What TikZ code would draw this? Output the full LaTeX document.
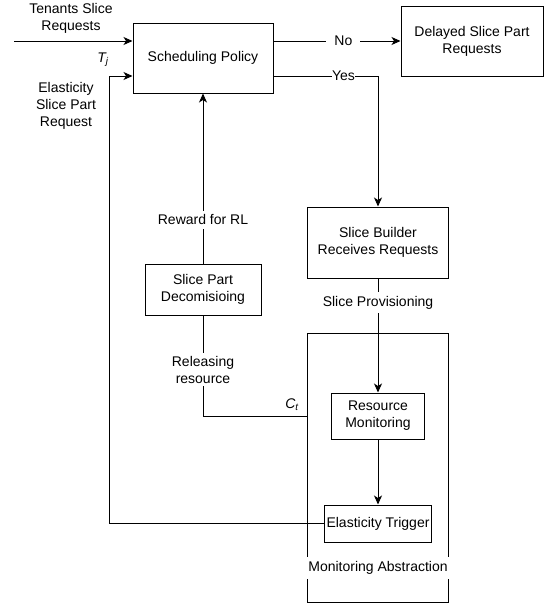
\documentclass[tikz,border=0pt]{standalone}
\usepackage{fontspec}
\setmainfont{Liberation Sans}
\usetikzlibrary{arrows.meta,calc}
\begin{document}
\begin{tikzpicture}[x=1pt,y=-1pt,
  every node/.style={font=\fontsize{14}{17}\selectfont},
  box/.style={draw,line width=1pt,rectangle,inner sep=0pt,align=center},
  lbl/.style={fill=white,inner xsep=2pt,inner ysep=4pt,align=center},
  txt/.style={inner sep=0pt,align=center},
  arr/.style={line width=1pt,-{Stealth[length=9pt,width=8pt,inset=2.5pt]}},
  ln/.style={line width=1pt}]
\useasboundingbox (0,0) rectangle (545,608);
% boxes
\node[box,minimum width=140pt,minimum height=70pt] (sp) at (203,58) {Scheduling Policy};
\node[box,minimum width=142pt,minimum height=70pt] (del) at (472,41) {Delayed Slice Part\\Requests};
\node[box,minimum width=141pt,minimum height=71pt] (sb) at (378,242.5) {Slice Builder\\Receives Requests};
\node[box,minimum width=116pt,minimum height=51pt] (dec) at (203,289.5) {Slice Part\\Decomisioing};
\node[box,minimum width=141pt,minimum height=269pt] (ma) at (378,467.5) {};
\node[box,minimum width=93pt,minimum height=46pt] (rm) at (378,416) {Resource\\Monitoring};
\node[box,minimum width=107pt,minimum height=37pt] (et) at (378,523.5) {Elasticity Trigger};
\node[lbl,inner xsep=1pt] (malbl) at (378,568) {Monitoring Abstraction};
% free labels
\node[txt] (tlbl) at (71,18.5) {Tenants Slice\\Requests};
\node[txt] (elbl) at (66,106) {Elasticity\\Slice Part\\Request};
\node[txt] (tj) at (103,60) {\textit{T\textsubscript{j}}};
\node[txt] (ctl) at (292,405) {\textit{C\textsubscript{t}}};
% coordinates
\coordinate (tin) at (14,41);
\coordinate (c1) at (109,523.5);
\coordinate (c2) at (109,76);
\coordinate (yc) at (378,76);
\coordinate (ct) at (203,416);
% connectors
\draw[arr] (tin) -- (tin -| sp.west);
\draw[arr] (et.west) -- (c1) -- (c2) -- (c2 -| sp.west);
\draw[arr] (sp.east |- del.west) -- node[lbl,pos=0.55,inner xsep=8pt]{No} (del.west);
\draw[ln] (sp.east |- yc) -- node[lbl,pos=0.67,inner xsep=0.5pt,inner ysep=1pt]{Yes} (yc);
\draw[arr] (yc) -- (sb.north);
\draw[arr] (dec.north) -- node[lbl,pos=0.257]{Reward for RL} (sp.south);
\draw[ln] (dec.south) -- node[lbl,pos=0.54,inner ysep=3pt]{Releasing\\resource} (ct) -- (ct -| ma.west);
\draw[arr] (sb.south) -- node[lbl,pos=0.21]{Slice Provisioning} (rm.north);
\draw[arr] (rm.south) -- (et.north);
\end{tikzpicture}
\end{document}
